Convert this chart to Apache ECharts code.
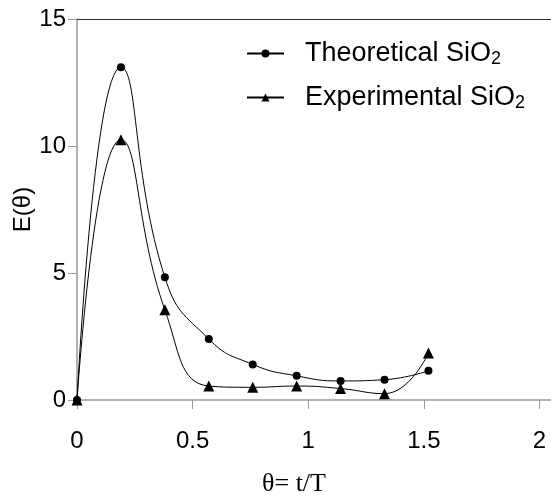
<!DOCTYPE html>
<html>
<head>
<meta charset="utf-8">
<script src="https://cdn.jsdelivr.net/npm/echarts@6/dist/echarts.min.js"></script>
<style>
html,body{margin:0;padding:0;background:#fff;}
#c{width:551px;height:498px;}
</style>
</head>
<body>
<div id="c"></div>
<script>
const theta = [0, 0.19, 0.38, 0.57, 0.76, 0.95, 1.14, 1.33, 1.52];
const theoretical = [0, 13.1, 4.83, 2.4, 1.4, 0.95, 0.75, 0.8, 1.15];
const experimental = [0, 10.25, 3.55, 0.55, 0.5, 0.55, 0.45, 0.25, 1.85];
const seriesNames = ['Theoretical SiO2', 'Experimental SiO2'];
const xTicks = [0, 0.5, 1, 1.5, 2];
const yTicks = [0, 5, 10, 15];

const pairs = (xs, ys) => xs.map((x, i) => [x, ys[i]]);
const font = 'Liberation Sans, Arial, sans-serif';

const chart = echarts.init(document.getElementById('c'));
chart.setOption({
  animation: false,
  backgroundColor: '#fff',
  grid: { left: 77, top: 19, right: 0, height: 381, containLabel: false, outerBoundsMode: 'none' },
  legend: {
    orient: 'vertical',
    left: 246,
    top: 40,
    padding: 0,
    itemWidth: 37,
    itemHeight: 10,
    itemGap: 16,
    data: seriesNames,
    formatter: function (n) {
      return '{a|' + n.slice(0, -1) + '}{b|' + n.slice(-1) + '}';
    },
    textStyle: {
      padding: [0, 0, 0, 16],
      rich: {
        a: { fontFamily: font, fontSize: 27, color: '#000', lineHeight: 29 },
        b: { fontFamily: font, fontSize: 18, color: '#000', lineHeight: 29, verticalAlign: 'bottom', padding: [10, 0, 0, 0] }
      }
    }
  },
  xAxis: [{
    type: 'value',
    min: 0, max: 2.05, interval: 0.5,
    name: 'θ= t/T',
    nameLocation: 'middle',
    nameGap: 71,
    nameMoveOverlap: false,
    nameTextStyle: { fontFamily: 'Liberation Serif, Times New Roman, serif', fontSize: 26, color: '#000', padding: [0, 40, 0, 0] },
    axisLine: { show: true, onZero: false, lineStyle: { color: '#999', width: 1.5 } },
    axisTick: { show: true, inside: false, length: 9, lineStyle: { color: '#999', width: 1 } },
    axisLabel: {
      margin: 29, fontFamily: font, fontSize: 24, color: '#000', showMaxLabel: false,
      formatter: function (v) { return xTicks.indexOf(v) >= 0 ? String(v) : ''; }
    },
    splitLine: { show: false }
  }, {
    type: 'value', position: 'top',
    min: 0, max: 2.05,
    axisLine: { show: true, onZero: false, lineStyle: { color: '#333', width: 1 } },
    axisTick: { show: false }, axisLabel: { show: false }, splitLine: { show: false }
  }],
  yAxis: {
    type: 'value',
    min: 0, max: 15, interval: 5,
    name: 'E(θ)',
    nameLocation: 'middle',
    nameGap: 42,
    nameMoveOverlap: false,
    nameTextStyle: { fontFamily: font, fontSize: 24, color: '#000' },
    axisLine: { show: true, onZero: false, lineStyle: { color: '#999', width: 1.5 } },
    axisTick: { show: true, inside: false, length: 9, lineStyle: { color: '#999', width: 1 } },
    axisLabel: {
      margin: 11, fontFamily: font, fontSize: 24, color: '#000',
      formatter: function (v) { return yTicks.indexOf(v) >= 0 ? String(v) : ''; }
    },
    splitLine: { show: false }
  },
  series: [{
    name: seriesNames[0],
    type: 'line',
    data: pairs(theta, theoretical),
    smooth: 0.5,
    symbol: 'circle',
    symbolSize: 8,
    lineStyle: { color: '#000', width: 1 },
    itemStyle: { color: '#000' }
  }, {
    name: seriesNames[1],
    type: 'line',
    data: pairs(theta, experimental),
    smooth: 0.5,
    symbol: 'triangle',
    symbolSize: 11,
    lineStyle: { color: '#000', width: 1 },
    itemStyle: { color: '#000' }
  }]
});
</script>
</body>
</html>
